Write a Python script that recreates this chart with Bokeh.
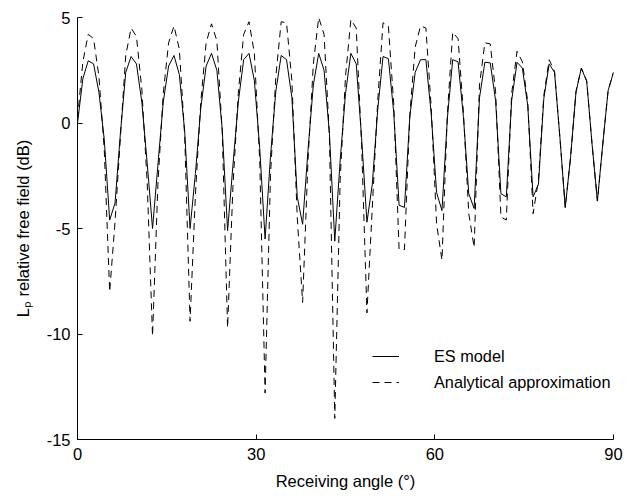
from bokeh.plotting import figure
from bokeh.models import Range1d, FixedTicker, Legend, LegendItem
from bokeh.embed import file_html
from bokeh.resources import INLINE

# ---- data -------------------------------------------------------------
angle_step = 0.9
angles = [round(i * angle_step, 1) for i in range(101)]

es_model = [
    0.0, 2.1, 2.95, 2.8, 1.45, -0.8, -4.6, -3.8, -0.5, 2.4,
    3.15, 2.8, 1.0, -1.9, -5.0, -2.0, 1.0, 2.7, 3.2, 2.3,
    -0.4, -5.0, -2.4, 0.7, 2.7, 3.3, 2.5, -0.3, -5.1, -2.0,
    1.0, 3.0, 3.3, 2.0, -1.2, -5.5, -1.6, 1.5, 3.2, 3.0,
    1.2, -3.5, -4.8, -1.3, 1.8, 3.3, 2.5, -0.5, -5.6, -1.8,
    1.4, 3.3, 2.8, -0.7, -4.7, -2.9, 0.6, 3.15, 3.05, 0.5,
    -3.9, -4.0, 0.3, 2.4, 3.0, 3.0, 0.4, -3.3, -4.15, 0.2,
    3.0, 2.9, 0.3, -3.35, -4.05, 1.2, 2.88, 2.85, 1.07, -3.35,
    -3.5, 1.07, 2.88, 2.6, 0.83, -3.5, -2.9, 1.16, 2.8, 2.4,
    -0.67, -4.0, -1.6, 1.46, 2.6, 1.98, -1.0, -3.7, -1.0, 1.54,
    2.4,
]

analytical = [
    0.2, 2.9, 4.2, 4.0, 2.2, -1.3, -8.0, -4.7, -0.7, 3.2,
    4.5, 4.1, 1.6, -2.8, -10.1, -2.9, 1.4, 3.8, 4.6, 3.5,
    -0.6, -9.4, -3.4, 1.0, 3.8, 4.7, 3.9, -0.4, -9.7, -3.0,
    1.4, 4.2, 4.8, 3.3, -1.8, -12.8, -2.5, 2.2, 4.8, 4.75,
    2.0, -4.5, -8.5, -1.8, 2.8, 5.0, 4.2, -0.6, -14.0, -2.7,
    2.2, 4.9, 4.5, -1.0, -9.0, -4.0, 1.0, 4.75, 4.6, 0.9,
    -6.0, -6.0, 0.4, 3.6, 4.6, 4.5, 0.7, -4.8, -6.5, 0.4,
    4.3, 4.0, 0.5, -4.3, -5.9, 1.8, 3.8, 3.75, 1.5, -4.45,
    -4.6, 1.4, 3.4, 2.9, 1.0, -4.3, -2.7, 1.3, 3.0, 2.45,
    -0.7, -4.0, -1.6, 1.5, 2.6, 2.0, -1.0, -3.7, -1.0, 1.55,
    2.4,
]

x_ticks = [0, 30, 60, 90]
y_ticks = [-15, -10, -5, 0, 5]
y_tick_labels = ["-15", "-10", "-5", "0", "5"]
series_labels = ["ES model", "Analytical approximation"]
x_title = "Receiving angle (°)"
y_title = "L\u209a relative free field (dB)"

# ---- figure -----------------------------------------------------------
FONT = "Liberation Sans"
FS = "16.5px"

p = figure(width=635, height=496, output_backend="svg", toolbar_location=None,
           x_range=Range1d(0, 90), y_range=Range1d(-15, 5),
           min_border_left=77, min_border_right=22, min_border_top=17,
           min_border_bottom=57)
p.outline_line_color = None
p.grid.visible = False
p.background_fill_color = "white"
p.border_fill_color = "white"

r_es = p.line(angles, es_model, line_color="#000000", line_width=1)
r_an = p.line(angles, analytical, line_color="#000000", line_width=1,
              line_dash="7 5")

for ax in (p.xaxis[0], p.yaxis[0]):
    ax.axis_line_color = "#000000"
    ax.axis_line_width = 1
    ax.major_tick_in = 5
    ax.major_tick_out = 0
    ax.major_tick_line_color = "#000000"
    ax.minor_tick_in = 0
    ax.minor_tick_out = 0
    ax.major_label_text_font = FONT
    ax.major_label_text_font_size = FS
    ax.major_label_text_color = "#000000"
    ax.axis_label_text_font = FONT
    ax.axis_label_text_font_size = FS
    ax.axis_label_text_font_style = "normal"
    ax.axis_label_text_color = "#000000"

p.xaxis.ticker = FixedTicker(ticks=x_ticks)
p.yaxis.ticker = FixedTicker(ticks=y_ticks)
p.yaxis.major_label_overrides = {t: s for t, s in zip(y_ticks, y_tick_labels)}
p.xaxis.major_label_standoff = 8
p.yaxis.major_label_standoff = 7

p.xaxis.axis_label = x_title
p.xaxis.axis_label_standoff = 9
p.yaxis.axis_label = y_title
p.yaxis.axis_label_standoff = 12

legend = Legend(items=[LegendItem(label=series_labels[0], renderers=[r_es]),
                       LegendItem(label=series_labels[1], renderers=[r_an])],
                location=(295, 47), padding=0, margin=0, spacing=6,
                glyph_width=27, glyph_height=20, label_height=20,
                label_standoff=35, label_text_font=FONT,
                label_text_font_size="16.3px", label_text_color="#000000",
                border_line_color=None, background_fill_alpha=0)
p.add_layout(legend)

open("out.html", "w").write(file_html(p, INLINE))
